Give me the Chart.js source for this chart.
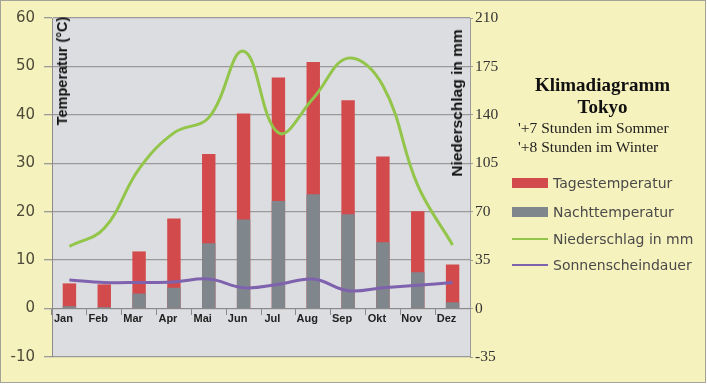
<!DOCTYPE html>
<html>
<head>
<meta charset="utf-8">
<script src="https://cdn.jsdelivr.net/npm/chart.js@4.4.1/dist/chart.umd.min.js"></script>
<style>
  html, body { margin: 0; padding: 0; }
  body { width: 707px; height: 386px; background: #ffffff; position: relative; overflow: hidden; }
  #frame { position: absolute; left: 0; top: 0; width: 704px; height: 381px; background: #f6f2bd; border: 1.5px solid #a3a39a; }
  #wrap { position: absolute; left: 0; top: 0; width: 707px; height: 386px; }
  .ytitle { position: absolute; font-family: "Liberation Sans", Arial, sans-serif; font-weight: bold; color: #111; white-space: nowrap; transform: translate(-50%, -50%) rotate(-90deg); }
  #panel { position: absolute; left: 505px; top: 0; width: 195px; }
  .title { position: absolute; width: 195px; text-align: center; font-family: "Liberation Serif", "Times New Roman", serif; font-weight: bold; font-size: 19px; color: #111; }
  .sub { position: absolute; left: 13px; font-family: "Liberation Serif", "Times New Roman", serif; font-size: 15.5px; color: #222; white-space: nowrap; }
  .leg { position: absolute; left: 7px; height: 20px; font-family: "DejaVu Sans", sans-serif; font-size: 14px; color: #4a4a4a; white-space: nowrap; }
  .leg .sw { position: absolute; left: 0; width: 36px; }
  .leg span.t { position: absolute; left: 41px; top: 0; line-height: 20px; }
</style>
</head>
<body>
<div id="frame"></div>
<div id="wrap"><canvas id="c" width="707" height="386"></canvas></div>
<div class="ytitle" style="left:62px; top:71px; font-size:14.5px;">Temperatur (°C)</div>
<div class="ytitle" style="left:457px; top:103px; font-size:15.5px;">Niederschlag in mm</div>
<div id="panel">
  <div class="title" style="top:74px;">Klimadiagramm</div>
  <div class="title" style="top:96px;">Tokyo</div>
  <div class="sub" style="top:119px;">'+7 Stunden im Sommer</div>
  <div class="sub" style="top:138px;">'+8 Stunden im Winter</div>
  <div class="leg" style="top:173px;"><div class="sw" style="top:5px;height:10px;background:#d24a4b;"></div><span class="t">Tagestemperatur</span></div>
  <div class="leg" style="top:202px;"><div class="sw" style="top:5px;height:10px;background:#7f868c;"></div><span class="t">Nachttemperatur</span></div>
  <div class="leg" style="top:229px;"><div class="sw" style="top:9px;height:2px;background:#92c54a;"></div><span class="t">Niederschlag in mm</span></div>
  <div class="leg" style="top:255px;"><div class="sw" style="top:9px;height:2px;background:#7e62ae;"></div><span class="t">Sonnenscheindauer</span></div>
</div>
<script>
const months = ["Jan","Feb","Mar","Apr","Mai","Jun","Jul","Aug","Sep","Okt","Nov","Dez"];
const tagesTemp = [5.2, 5.0, 11.8, 18.6, 31.9, 40.3, 47.7, 50.9, 43.0, 31.4, 20.1, 9.1];
const nachtTemp = [0.5, 0.3, 3.1, 4.3, 13.5, 18.4, 22.2, 23.6, 19.5, 13.7, 7.5, 1.3];
const niederschlag = [45, 58, 101, 127, 138, 186, 127, 152, 181, 161, 89, 46];
const sonnenschein = [5.9, 5.4, 5.4, 5.5, 6.1, 4.3, 5.0, 6.1, 3.7, 4.3, 4.8, 5.4];
const tempTicks = [-10, 0, 10, 20, 30, 40, 50, 60];
const mmTicks = [-35, 0, 35, 70, 105, 140, 175, 210];

const plotBg = {
  id: 'plotBg',
  beforeDraw(chart) {
    const a = chart.chartArea, ctx = chart.ctx;
    ctx.save();
    ctx.fillStyle = '#dcdde0';
    ctx.fillRect(a.left, a.top, a.right - a.left, a.bottom - a.top);
    ctx.restore();
  }
};

new Chart(document.getElementById('c'), {
  type: 'bar',
  data: {
    labels: months,
    datasets: [
      { type: 'line', label: 'Niederschlag in mm', data: niederschlag, yAxisID: 'y1', borderColor: '#92c54a', borderWidth: 3, tension: 0.4, pointRadius: 0, order: 0 },
      { type: 'line', label: 'Sonnenscheindauer', data: sonnenschein, yAxisID: 'y', borderColor: '#7e62ae', borderWidth: 3, tension: 0.4, pointRadius: 0, order: 1 },
      { label: 'Nachttemperatur', data: nachtTemp, yAxisID: 'y', backgroundColor: '#7f868c', grouped: false, barPercentage: 0.385, categoryPercentage: 1, order: 2 },
      { label: 'Tagestemperatur', data: tagesTemp, yAxisID: 'y', backgroundColor: '#d24a4b', grouped: false, barPercentage: 0.385, categoryPercentage: 1, order: 3 }
    ]
  },
  options: {
    responsive: false,
    animation: false,
    events: [],
    layout: { padding: { top: 14, bottom: 29, left: 0, right: 197 } },
    plugins: { legend: { display: false }, tooltip: { enabled: false } },
    scales: {
      x: {
        axis: 'x',
        position: { y: 0 },
        grid: { display: true, drawOnChartArea: false, offset: true, tickLength: 6, color: '#8a8a8a' },
        border: { display: true, color: '#8a8a8a', width: 1 },
        ticks: { font: { family: 'Liberation Sans', size: 11, weight: 'bold' }, color: '#222', padding: -2, labelOffset: -6, maxRotation: 0 }
      },
      y: {
        position: 'left',
        min: -10, max: 60,
        afterBuildTicks: s => { s.ticks = tempTicks.map(v => ({ value: v })); },
        afterFit: s => { s.width = 52; },
        grid: { color: '#9a9a9a', tickLength: 8, lineWidth: 1.3 },
        border: { display: true, color: '#8a8a8a' },
        ticks: { font: { family: 'DejaVu Sans', size: 15 }, color: '#4d4a3a', padding: 9 }
      },
      y1: {
        position: 'right',
        min: -35, max: 210,
        afterBuildTicks: s => { s.ticks = mmTicks.map(v => ({ value: v })); },
        afterFit: s => { s.width = 40; },
        grid: { drawOnChartArea: false, color: '#9a9a9a', tickLength: 3 },
        border: { display: true, color: '#9a9a9a' },
        ticks: { font: { family: 'Liberation Serif', size: 15.5 }, color: '#333', padding: 2 }
      }
    }
  },
  plugins: [plotBg]
});
</script>
</body>
</html>
